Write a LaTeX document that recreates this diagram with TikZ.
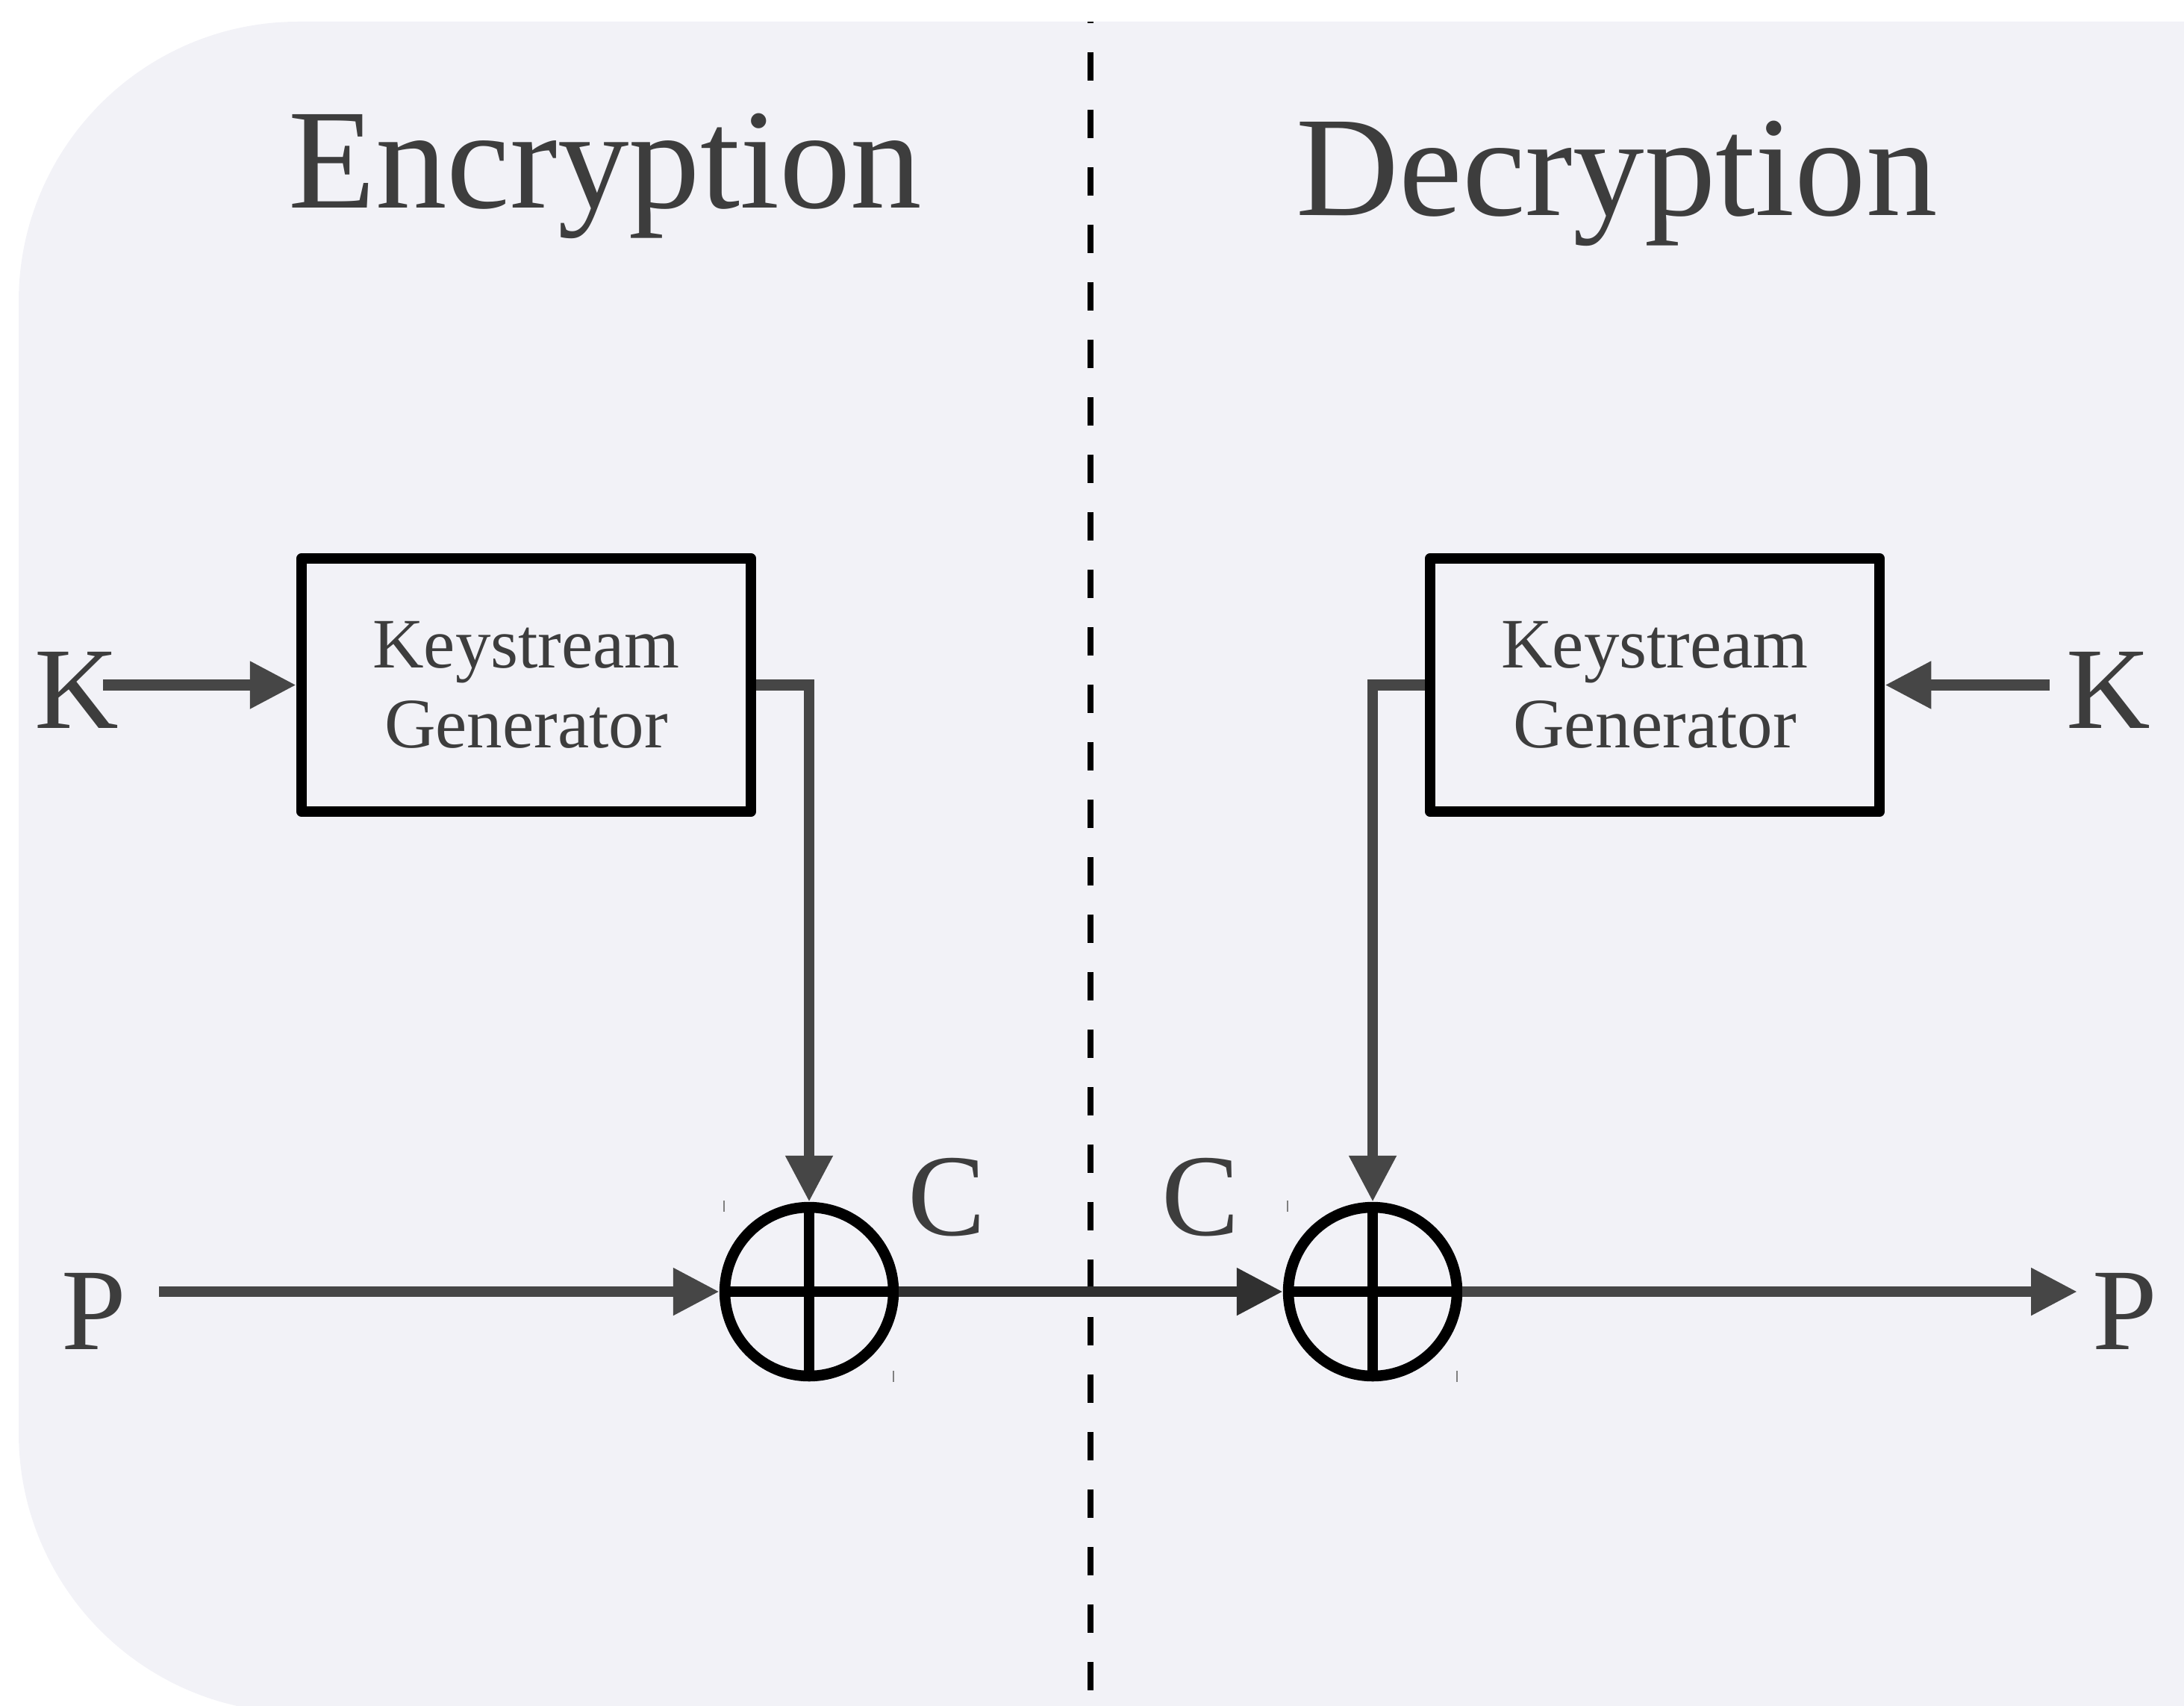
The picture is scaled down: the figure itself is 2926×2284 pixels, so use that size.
\documentclass[tikz,border=0pt]{standalone}
\usepackage{fontspec}
\setmainfont{Liberation Serif}
\usetikzlibrary{arrows.meta}

\definecolor{bgfill}{RGB}{242,242,247}
\definecolor{inkgray}{RGB}{61,61,61}
\definecolor{wiregray}{RGB}{70,70,70}
\definecolor{wiredark}{RGB}{48,48,48}

\tikzset{every picture/.style={line width=1.45pt}}
\tikzset{
keybox/.style={draw=black, line join=round, minimum width=60.2pt, minimum height=33.9pt,
  inner sep=0pt, align=center, text=inkgray, font=\fontsize{9.5}{10.7}\selectfont},
xorgate/.style={draw=black, circle, minimum size=22.6pt, inner sep=0pt},
wire/.style={draw=wiregray, -{Triangle[length=6.2pt,width=6pt]}},
title/.style={text=inkgray, inner sep=0pt, anchor=base, font=\fontsize{19.1}{22}\selectfont},
sym/.style={text=inkgray, inner sep=0pt, anchor=base, font=\fontsize{15.6}{18}\selectfont},
tick/.style={draw=gray, line width=0.15pt}}

\begin{document}
\begin{tikzpicture}[x=0.1pt,y=0.1pt,yscale=-1,xscale=1]
\useasboundingbox (0,0) rectangle (2926,2284);
\clip (0,0) rectangle (2926,2284);

%Shape: Rounded Rect (background)
\fill [bgfill, rounded corners=37.5pt] (25,29) rectangle (3400,2294);
%Straight Lines (separator)
\draw [black, line width=0.77pt, dash pattern=on 3.8pt off 3.9pt, dash phase=3.6pt] (1461,29) -- (1461,2284);

% Text Node
\node [title] (enc) at (811,279) {Encryption};
% Text Node
\node [title] (dec) at (2166,288) {Decryption};

%Shape: Rectangle
\node [keybox] (box1) at (705,917.5) {Keystream\\Generator};
%Shape: Rectangle
\node [keybox] (box2) at (2217,917.5) {Keystream\\Generator};

%Shape: Circle
\node [xorgate] (xor1) at (1084,1730) {};
\draw (xor1.north) -- (xor1.south) (xor1.west) -- (xor1.east);
%Shape: Circle
\node [xorgate] (xor2) at (1839,1730) {};
\draw (xor2.north) -- (xor2.south) (xor2.west) -- (xor2.east);
\foreach \g in {xor1,xor2}{
  \draw [tick] (\g) ++(-114,-122) -- ++(0,15);
  \draw [tick] (\g) ++(113,106) -- ++(0,15);
}

% Text Node
\node [sym] (kL) at (103,975) {K};
\node [sym] (kR) at (2825,975) {K};
\node [sym] (pL) at (125.5,1807) {P};
\node [sym] (pR) at (2846.5,1807) {P};
\node [sym] (cL) at (1268.5,1654) {C};
\node [sym] (cR) at (1608.5,1654) {C};

\coordinate (kLout) at (138,917.5);
\coordinate (kRout) at (2746,917.5);
\coordinate (pLout) at (213,1730);
\coordinate (pRin) at (2783,1730);

%Straight Lines
\draw [wire] (kLout) -- (box1.west);
\draw [wire] (kRout) -- (box2.east);
\draw [wire] (box1.east) -| (xor1.north);
\draw [wire] (box2.west) -| (xor2.north);
\draw [wire] (pLout) -- (xor1.west);
\draw [wire, draw=wiredark] (xor1.east) -- (xor2.west);
\draw [wire] (xor2.east) -- (pRin);

\end{tikzpicture}
\end{document}
